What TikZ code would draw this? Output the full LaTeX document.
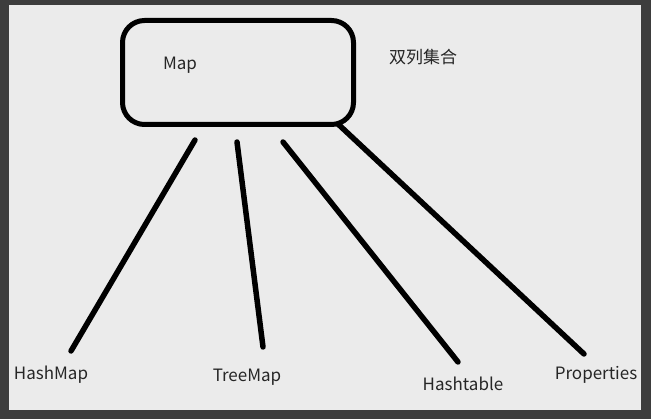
\documentclass[tikz,border=0pt]{standalone}
\usepackage{fontspec}
\usepackage{xcolor}
\usepackage{tikz}
\usetikzlibrary{positioning,calc}
\newfontfamily\cjk{Noto Sans CJK SC}
\definecolor{frame}{HTML}{3D3D3D}
\definecolor{paper}{HTML}{EBEBEB}
\definecolor{ink}{HTML}{262626}

\begin{document}
\begin{tikzpicture}[
  x=1pt, y=-1pt,
  font=\cjk\fontsize{17}{20}\selectfont,
  label/.style={text=ink, inner sep=0pt, yshift=-2pt},
  mapbox/.style={draw=black, line width=5pt, rounded corners=22pt, minimum width=231pt, minimum height=104pt, inner sep=0pt},
  link/.style={line width=5.5pt, line cap=round, black}
]
% background
\fill[frame] (0,0) rectangle (651,419);
\fill[paper] (9,5) rectangle (641,410);
\useasboundingbox (0,0) rectangle (651,419);

\node[mapbox] (map) at (238,72.5) {};
\node[label] (maptxt) at (180,63) {Map};
\node[label] (title) at (423,55) {双列集合};

\node[label] (hashmap) at (51,373) {HashMap};
\node[label] (treemap) at (247,375) {TreeMap};
\node[label] (hashtable) at (463,382) {Hashtable};
\node[label] (props) at (596,373) {Properties};

% line ends
\coordinate (hm-top) at (195,140);
\coordinate (hm-end) at (71,351);
\coordinate (tm-top) at (237,142);
\coordinate (tm-end) at (263,347);
\coordinate (ht-top) at (283,142);
\coordinate (ht-end) at (458,362);
\coordinate (pr-top) at (338,124);
\coordinate (pr-end) at (584,354);

\draw[link] (hm-top) -- (hm-end);
\draw[link] (tm-top) -- (tm-end);
\draw[link] (ht-top) -- (ht-end);
\draw[link] (pr-top) -- (pr-end);
\end{tikzpicture}
\end{document}
